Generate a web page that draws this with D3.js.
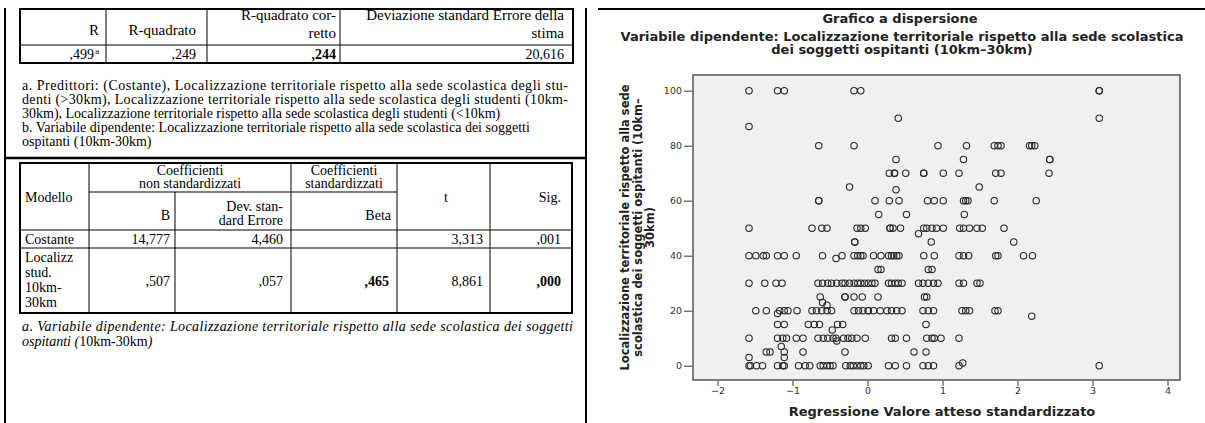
<!DOCTYPE html>
<html><head><meta charset="utf-8">
<script src="https://cdn.jsdelivr.net/npm/d3@7"></script>
<style>
body{margin:0;background:#fff;}
svg{display:block;}
</style></head>
<body>
<svg id="fig" width="1205" height="423"></svg>
<script>
// ---------- Riepilogo del modello ----------
const summaryHeaders = [["R"], ["R-quadrato"], ["R-quadrato cor-", "retto"], ["Deviazione standard Errore della", "stima"]];
const summaryValues = [",499", ",249", ",244", "20,616"];
const summaryBold = [false, false, true, false];
const summaryNotes = [
  "a. Predittori: (Costante), Localizzazione territoriale rispetto alla sede scolastica degli stu-",
  "denti (>30km), Localizzazione territoriale rispetto alla sede scolastica degli studenti (10km-",
  "30km), Localizzazione territoriale rispetto alla sede scolastica degli studenti (<10km)",
  "b. Variabile dipendente: Localizzazione territoriale rispetto alla sede scolastica dei soggetti",
  "ospitanti (10km-30km)"
];

// ---------- Coefficienti ----------
const coefRowLabels = [["Costante"], ["Localizz", "stud.", "10km-", "30km"]];
const coefB = ["14,777", ",507"];
const coefSE = ["4,460", ",057"];
const coefBeta = ["", ",465"];
const coefT = ["3,313", "8,861"];
const coefSig = [",001", ",000"];
const coefNote = "a. Variabile dipendente: Localizzazione territoriale rispetto alla sede scolastica dei soggetti";

// ---------- Grafico a dispersione ----------
const observedLevels = [100, 90, 87, 80, 75, 70, 65, 64, 60, 55, 50, 48, 45, 40, 39, 35, 30, 25, 23, 22, 20, 19, 18, 15, 13, 10, 9, 7, 5, 3, 1, 0];
const predictedByLevel = [
  [-1.58, -1.20, -1.11, -0.18, -0.09, 3.09, 3.09],
  [0.41, 3.09],
  [-1.58],
  [-0.65, -0.18, 0.94, 1.32, 1.69, 1.74, 1.78, 2.16, 2.19, 2.23],
  [0.38, 1.28, 2.43, 2.43],
  [0.29, 0.36, 0.36, 0.51, 0.75, 0.75, 1.01, 1.22, 1.71, 1.78, 2.42],
  [-0.24, 1.49],
  [0.38],
  [-0.65, -0.65, 0.10, 0.29, 0.42, 0.80, 0.89, 1.01, 1.28, 1.31, 1.34, 1.69, 2.25],
  [0.15, 0.52, 1.29],
  [-1.58, -0.74, -0.61, -0.54, -0.14, -0.09, -0.03, 0.30, 0.30, 0.34, 0.44, 0.75, 0.79, 0.86, 0.92, 1.01, 1.23, 1.28, 1.36, 1.46, 1.53, 1.82],
  [0.68],
  [-0.17, -0.17, 0.85, 1.95],
  [-1.58, -1.49, -1.39, -1.35, -1.20, -1.11, -0.95, -0.60, -0.34, -0.18, -0.13, -0.09, -0.06, 0.08, 0.18, 0.28, 0.32, 0.35, 0.39, 0.42, 0.75, 0.89, 1.22, 1.28, 1.35, 1.71, 1.74, 2.08, 2.20],
  [-0.42],
  [0.14, 0.18, 0.81, 0.86],
  [-1.58, -1.37, -1.22, -1.14, -0.66, -0.60, -0.53, -0.48, -0.41, -0.34, -0.30, -0.24, -0.18, -0.13, -0.09, -0.04, 0.01, 0.06, 0.10, 0.28, 0.32, 0.37, 0.41, 0.46, 0.68, 0.74, 0.81, 0.88, 0.94, 1.22, 1.28, 1.46, 1.50],
  [-0.63, -0.30, -0.30, -0.18, -0.07, 0.14, 0.76, 0.79],
  [-0.60],
  [-0.54],
  [-1.49, -1.35, -1.17, -1.11, -1.06, -0.94, -0.74, -0.68, -0.61, -0.54, -0.48, -0.18, -0.12, -0.06, 0.01, 0.01, 0.08, 0.17, 0.26, 0.32, 0.39, 0.46, 0.74, 0.81, 0.88, 1.26, 1.31, 1.36, 1.70, 1.74],
  [-1.20],
  [2.19],
  [-1.20, -1.11, -0.79, -0.71, -0.64, -0.40, -0.33, 0.78],
  [-0.47],
  [-1.58, -1.20, -1.13, -1.08, -0.95, -0.86, -0.66, -0.59, -0.53, -0.46, -0.42, -0.32, -0.26, -0.21, -0.14, -0.03, 0.32, 0.37, 0.52, 0.79, 0.86, 0.89, 0.98, 1.22],
  [-0.41],
  [-1.15],
  [-1.35, -1.30, -1.11, -0.86, -0.30, 0.62, 0.78],
  [-1.58, -1.11],
  [1.27],
  [-1.58, -1.56, -1.48, -1.40, -1.20, -1.13, -1.11, -0.92, -0.83, -0.77, -0.63, -0.59, -0.54, -0.50, -0.46, -0.29, -0.23, -0.19, -0.14, -0.09, -0.05, 0.01, 0.28, 0.37, 0.52, 0.74, 0.81, 0.88, 1.22, 3.09]
];
const xTicks = [-2, -1, 0, 1, 2, 3, 4];
const yTicks = [0, 20, 40, 60, 80, 100];
const chartTitle = "Grafico a dispersione";
const chartSubtitle = ["Variabile dipendente: Localizzazione territoriale rispetto alla sede scolastica", "dei soggetti ospitanti (10km\u201330km)"];
const yTitle = ["Localizzazione territoriale rispetto alla sede", "scolastica dei soggetti ospitanti (10km\u2013", "30km)"];
const xTitle = "Regressione Valore atteso standardizzato";

const svg = d3.select("#fig");
const serif = "'Liberation Serif','Times New Roman',serif";
const sans = "'DejaVu Sans',sans-serif";
const FS = 14;

function txt(g, x, y, s, o = {}) {
  return g.append("text").attr("x", x).attr("y", y)
    .attr("text-anchor", o.anchor || "start")
    .attr("font-family", o.family || serif)
    .attr("font-size", o.size || FS)
    .attr("font-weight", o.bold ? "bold" : "normal")
    .attr("font-style", o.italic ? "italic" : "normal")
    .attr("fill", o.fill || "#000")
    .text(s);
}
function line(g, x1, y1, x2, y2, w = 1) {
  g.append("line").attr("x1", x1).attr("y1", y1).attr("x2", x2).attr("y2", y2)
    .attr("stroke", "#000").attr("stroke-width", w);
}
// squeeze a text line into a width only when it runs longer
function fit(t, w) {
  if (t.node().getComputedTextLength() > w) t.attr("textLength", w).attr("lengthAdjust", "spacingAndGlyphs");
  return t;
}

// ---------- left panel: page frame ----------
const page = svg.append("g");
line(page, 5, 8, 5, 423, 2);
line(page, 586, 8, 586, 423, 2);
line(page, 4, 158, 587, 158, 2.5);

// ---------- table 1: riepilogo ----------
const t1 = svg.append("g");
const t1Cols = [20, 106, 207, 340, 573];
const t1Rows = [9, 45, 63];
const t1Right = [99, 196, 336, 564];
t1.append("rect").attr("x", t1Cols[0]).attr("y", t1Rows[0]).attr("width", t1Cols[4] - t1Cols[0]).attr("height", t1Rows[2] - t1Rows[0])
  .attr("fill", "none").attr("stroke", "#000").attr("stroke-width", 2);
t1Cols.slice(1, 4).forEach(c => line(t1, c, t1Rows[0], c, t1Rows[2], 1));
line(t1, t1Cols[0], t1Rows[1], t1Cols[4], t1Rows[1], 1);
summaryHeaders.forEach((h, i) => {
  if (h.length === 1) txt(t1, t1Right[i], 35, h[0], { anchor: "end", size: 15 });
  else {
    fit(txt(t1, t1Right[i], 20, h[0], { anchor: "end", size: 15 }), t1Cols[i + 1] - t1Cols[i] - 8);
    txt(t1, t1Right[i], 38, h[1], { anchor: "end", size: 15 });
  }
});
summaryValues.forEach((v, i) => {
  const t = txt(t1, t1Right[i], 58.5, v, { anchor: "end", bold: summaryBold[i] });
  if (i === 0) {
    t.attr("x", t1Right[i] - 5);
    txt(t1, t1Right[i], 54, "a", { anchor: "end", size: 8.5 });
  }
});
summaryNotes.forEach((n, i) => {
  const t = fit(txt(t1, 22, 89.5 + i * 14.2, n), 546);
  if (i < 2) t.attr("textLength", 546).attr("lengthAdjust", "spacing");
});

// ---------- table 2: coefficienti ----------
const t2 = svg.append("g");
const t2Cols = [20, 89, 175, 291, 397, 490, 572];
const t2Rows = [163, 192, 230, 248, 313];
t2.append("rect").attr("x", t2Cols[0]).attr("y", t2Rows[0]).attr("width", t2Cols[6] - t2Cols[0]).attr("height", t2Rows[4] - t2Rows[0])
  .attr("fill", "none").attr("stroke", "#000").attr("stroke-width", 2);
line(t2, t2Cols[1], t2Rows[0], t2Cols[1], t2Rows[4]);
line(t2, t2Cols[2], t2Rows[1], t2Cols[2], t2Rows[4]);
line(t2, t2Cols[3], t2Rows[0], t2Cols[3], t2Rows[4]);
line(t2, t2Cols[4], t2Rows[0], t2Cols[4], t2Rows[4]);
line(t2, t2Cols[5], t2Rows[0], t2Cols[5], t2Rows[4]);
line(t2, t2Cols[1], t2Rows[1], t2Cols[4], t2Rows[1]);
line(t2, t2Cols[0], t2Rows[2], t2Cols[6], t2Rows[2]);
line(t2, t2Cols[0], t2Rows[3], t2Cols[6], t2Rows[3]);
// headers
txt(t2, 25, 202, "Modello");
txt(t2, (t2Cols[1] + t2Cols[3]) / 2, 175, "Coefficienti", { anchor: "middle" });
txt(t2, (t2Cols[1] + t2Cols[3]) / 2, 188, "non standardizzati", { anchor: "middle" });
txt(t2, 170, 220, "B", { anchor: "end" });
txt(t2, 283, 211, "Dev. stan-", { anchor: "end" });
txt(t2, 283, 225, "dard Errore", { anchor: "end" });
txt(t2, (t2Cols[3] + t2Cols[4]) / 2, 175, "Coefficienti", { anchor: "middle" });
txt(t2, (t2Cols[3] + t2Cols[4]) / 2, 188, "standardizzati", { anchor: "middle" });
txt(t2, 391, 220, "Beta", { anchor: "end" });
txt(t2, 446, 202, "t", { anchor: "middle" });
txt(t2, 561, 202, "Sig.", { anchor: "end" });
// body rows
const rowMid = [(t2Rows[2] + t2Rows[3]) / 2, (t2Rows[3] + t2Rows[4]) / 2];
coefRowLabels.forEach((lab, r) => {
  if (lab.length === 1) txt(t2, 25, rowMid[r] + 5, lab[0]);
  else lab.forEach((l, k) => txt(t2, 25, 262 + k * 15, l));
  txt(t2, 170, rowMid[r] + 5, coefB[r], { anchor: "end" });
  txt(t2, 283, rowMid[r] + 5, coefSE[r], { anchor: "end" });
  txt(t2, 389, rowMid[r] + 5, coefBeta[r], { anchor: "end", bold: true });
  txt(t2, 483, rowMid[r] + 5, coefT[r], { anchor: "end" });
  txt(t2, 561, rowMid[r] + 5, coefSig[r], { anchor: "end", bold: r === 1 });
});
fit(txt(t2, 22, 331, coefNote, { italic: true }), 551).attr("textLength", 551).attr("lengthAdjust", "spacing");
const n2 = txt(t2, 22, 346, "ospitanti (", { italic: true });
n2.append("tspan").attr("font-style", "normal").text("10km-30km");
n2.append("tspan").text(")");

// ---------- scatter chart ----------
line(svg, 598, 9, 1205, 9, 2);
const plot = { left: 693, right: 1180, top: 75, bottom: 380 };
const x = d3.scaleLinear().domain([-2.327, 4.167]).range([plot.left, plot.right]);
const y = d3.scaleLinear().domain([-5.2, 105.7]).range([plot.bottom, plot.top]);

svg.append("rect").attr("x", plot.left).attr("y", plot.top)
  .attr("width", plot.right - plot.left).attr("height", plot.bottom - plot.top)
  .attr("fill", "#f0f0f0").attr("stroke", "#5e5e5e").attr("stroke-width", 1.6);

const fmt = d3.format("d");
const yAxis = svg.append("g").attr("transform", `translate(${plot.left - 1},0)`)
  .call(d3.axisLeft(y).tickValues(yTicks).tickSize(8).tickPadding(2).tickFormat(fmt));
const xAxis = svg.append("g").attr("transform", `translate(0,${plot.bottom + 1})`)
  .call(d3.axisBottom(x).tickValues(xTicks).tickSize(5).tickPadding(1).tickFormat(fmt));
[yAxis, xAxis].forEach(a => {
  a.select(".domain").remove();
  a.selectAll(".tick line").attr("stroke", "#555").attr("stroke-width", 1.2);
  a.selectAll(".tick text").attr("font-family", sans).attr("font-size", 9.5).attr("fill", "#333");
});

const points = [];
observedLevels.forEach((lv, i) => predictedByLevel[i].forEach(p => points.push({ p, lv })));
svg.append("g").selectAll("circle").data(points).join("circle")
  .attr("cx", d => x(d.p)).attr("cy", d => y(d.lv)).attr("r", 3.2)
  .attr("fill", "none").attr("stroke", "#2b2b2b").attr("stroke-width", 1.1);

// titles
txt(svg, 900, 23, chartTitle, { anchor: "middle", family: sans, bold: true, size: 13, fill: "#222" });
chartSubtitle.forEach((s, i) => txt(svg, 902, 40.5 + i * 13.5, s, { anchor: "middle", family: sans, bold: true, size: 13, fill: "#222" }));
txt(svg, 942, 416, xTitle, { anchor: "middle", family: sans, bold: true, size: 13, fill: "#222" });
const cy = (plot.top + plot.bottom) / 2;
yTitle.forEach((s, i) => {
  const bx = 629 + i * 12.5;
  txt(svg, 0, 0, s, { anchor: "middle", family: sans, bold: true, size: 11.5, fill: "#222" })
    .attr("transform", `translate(${bx},${cy}) rotate(-90)`);
});
</script>
</body></html>
